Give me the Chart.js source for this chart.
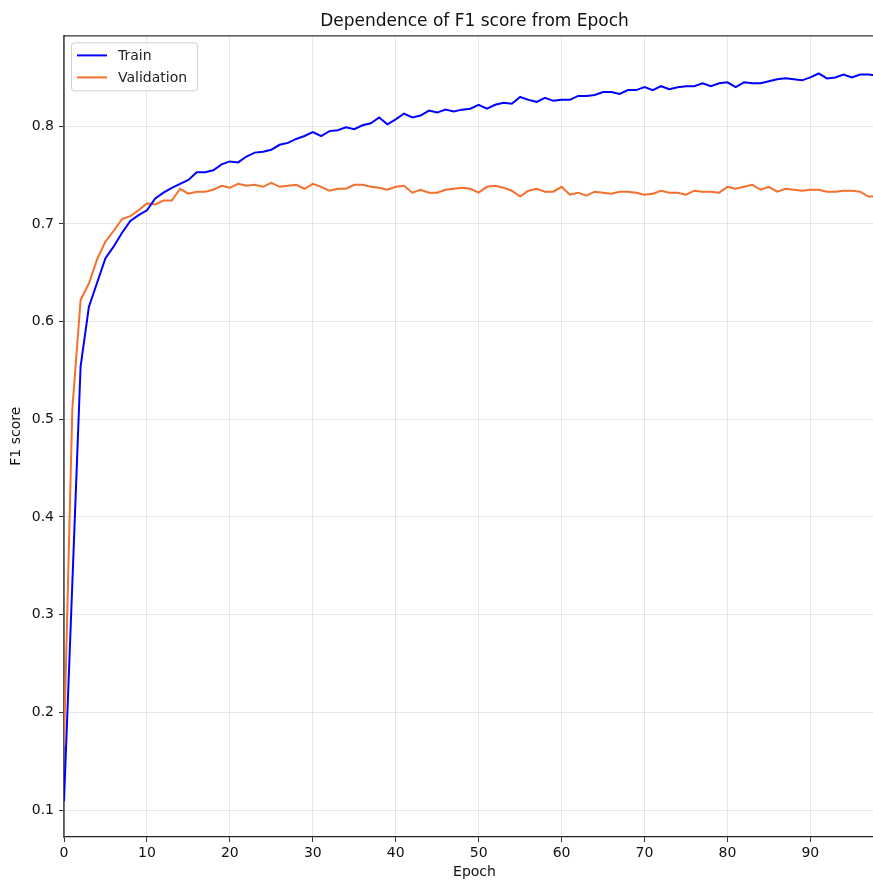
<!DOCTYPE html>
<html>
<head>
<meta charset="utf-8">
<script src="https://cdn.jsdelivr.net/npm/chart.js@4.4.0/dist/chart.umd.min.js"></script>
<style>
html,body{margin:0;padding:0;background:#fff;overflow:hidden;width:873px;height:881px;}
#wrap{width:885px;height:881px;position:relative;}
</style>
</head>
<body>
<div id="wrap"><canvas id="c" width="885" height="881"></canvas></div>
<script>
const epochs = [0,1,2,3,4,5,6,7,8,9,10,11,12,13,14,15,16,17,18,19,20,21,22,23,24,25,26,27,28,29,30,31,32,33,34,35,36,37,38,39,40,41,42,43,44,45,46,47,48,49,50,51,52,53,54,55,56,57,58,59,60,61,62,63,64,65,66,67,68,69,70,71,72,73,74,75,76,77,78,79,80,81,82,83,84,85,86,87,88,89,90,91,92,93,94,95,96,97,98];
const trainF1 = [0.109,0.331,0.554,0.615,0.640,0.665,0.677,0.691,0.703,0.709,0.714,0.726,0.732,0.737,0.741,0.745,0.753,0.753,0.755,0.761,0.764,0.763,0.769,0.773,0.774,0.776,0.781,0.783,0.787,0.790,0.794,0.790,0.795,0.796,0.799,0.797,0.801,0.803,0.809,0.802,0.807,0.813,0.809,0.811,0.816,0.814,0.817,0.815,0.817,0.818,0.822,0.818,0.822,0.824,0.823,0.830,0.827,0.825,0.829,0.826,0.827,0.827,0.831,0.831,0.832,0.835,0.835,0.833,0.837,0.837,0.840,0.837,0.841,0.838,0.840,0.841,0.841,0.844,0.841,0.844,0.845,0.840,0.845,0.844,0.844,0.846,0.848,0.849,0.848,0.847,0.850,0.854,0.849,0.850,0.853,0.850,0.853,0.853,0.852];
const valF1 = [0.166,0.510,0.622,0.639,0.664,0.682,0.693,0.705,0.708,0.714,0.721,0.720,0.724,0.724,0.736,0.731,0.733,0.733,0.735,0.739,0.737,0.741,0.739,0.740,0.738,0.742,0.738,0.739,0.740,0.736,0.741,0.738,0.734,0.736,0.736,0.740,0.740,0.738,0.737,0.735,0.738,0.739,0.732,0.735,0.732,0.732,0.735,0.736,0.737,0.736,0.732,0.738,0.739,0.737,0.734,0.728,0.734,0.736,0.733,0.733,0.738,0.730,0.732,0.729,0.733,0.732,0.731,0.733,0.733,0.732,0.730,0.731,0.734,0.732,0.732,0.730,0.734,0.733,0.733,0.732,0.738,0.736,0.738,0.740,0.735,0.738,0.733,0.736,0.735,0.734,0.735,0.735,0.733,0.733,0.734,0.734,0.733,0.728,0.728];
const xTicks = [0,10,20,30,40,50,60,70,80,90];
const yTicks = [0.1,0.2,0.3,0.4,0.5,0.6,0.7,0.8];
const seriesNames = ['Train','Validation'];
const seriesColors = ['#0000ff','#f4702c'];

const FONT = "'DejaVu Sans', sans-serif";

const insideLegend = {
  id: 'insideLegend',
  afterDraw(chart) {
    const ctx = chart.ctx;
    const a = chart.chartArea;
    ctx.save();
    ctx.strokeStyle = '#000';
    ctx.lineWidth = 1;
    ctx.beginPath();
    ctx.moveTo(a.left, a.top + 0.5);
    ctx.lineTo(a.right, a.top + 0.5);
    ctx.stroke();
    const x = a.left + 7.5, y = a.top + 7.5, w = 126, h = 48, r = 3;
    ctx.beginPath();
    ctx.moveTo(x + r, y);
    ctx.lineTo(x + w - r, y); ctx.quadraticCurveTo(x + w, y, x + w, y + r);
    ctx.lineTo(x + w, y + h - r); ctx.quadraticCurveTo(x + w, y + h, x + w - r, y + h);
    ctx.lineTo(x + r, y + h); ctx.quadraticCurveTo(x, y + h, x, y + h - r);
    ctx.lineTo(x, y + r); ctx.quadraticCurveTo(x, y, x + r, y);
    ctx.closePath();
    ctx.fillStyle = 'rgba(255,255,255,0.8)';
    ctx.fill();
    ctx.strokeStyle = '#d0d0d0';
    ctx.stroke();
    ctx.font = "14px " + FONT;
    ctx.textBaseline = 'middle';
    ctx.textAlign = 'left';
    chart.data.datasets.forEach((ds, i) => {
      const ly = a.top + 20 + i * 22;
      ctx.strokeStyle = ds.borderColor;
      ctx.lineWidth = 2;
      ctx.beginPath();
      ctx.moveTo(a.left + 13, ly);
      ctx.lineTo(a.left + 43, ly);
      ctx.stroke();
      ctx.fillStyle = '#222';
      ctx.fillText(ds.label, a.left + 54, ly + 1);
    });
    ctx.restore();
  }
};

new Chart(document.getElementById('c'), {
  type: 'line',
  data: {
    datasets: [
      { label: seriesNames[0], data: epochs.map((e, i) => ({x: e, y: trainF1[i]})), borderColor: seriesColors[0], backgroundColor: seriesColors[0], borderWidth: 2, pointRadius: 0, tension: 0 },
      { label: seriesNames[1], data: epochs.map((e, i) => ({x: e, y: valF1[i]})), borderColor: seriesColors[1], backgroundColor: seriesColors[1], borderWidth: 2, pointRadius: 0, tension: 0 }
    ]
  },
  options: {
    responsive: false,
    animation: false,
    devicePixelRatio: 1,
    layout: { padding: { left: 0, right: 0, top: 0, bottom: 0 } },
    plugins: {
      legend: { display: false },
      tooltip: { enabled: false },
      title: {
        display: true,
        fullSize: false,
        text: 'Dependence of F1 score from Epoch',
        color: '#111',
        font: { family: FONT, size: 17, weight: 'normal' },
        padding: { top: 11, bottom: 4 }
      }
    },
    scales: {
      x: {
        type: 'linear',
        min: 0,
        max: 99,
        afterBuildTicks: s => { s.ticks = xTicks.map(v => ({value: v})); },
        afterFit: s => { s.height = 44; },
        ticks: { color: '#111', font: { family: FONT, size: 14 }, padding: 3, maxRotation: 0, callback: v => String(v) },
        grid: { color: 'rgba(0,0,0,0.09)', tickColor: '#333', tickLength: 5, lineWidth: 1 },
        border: { color: '#222', width: 1.3 },
        title: { display: true, text: 'Epoch', color: '#111', font: { family: FONT, size: 14 }, padding: { top: 2, bottom: 0 } }
      },
      y: {
        type: 'linear',
        min: 0.0724,
        max: 0.893,
        afterBuildTicks: s => { s.ticks = yTicks.map(v => ({value: v})); },
        afterFit: s => { s.width = 64; },
        ticks: { color: '#111', font: { family: FONT, size: 14 }, padding: 5, callback: v => Number(v).toFixed(1) },
        grid: { color: 'rgba(0,0,0,0.09)', tickColor: '#333', tickLength: 5, lineWidth: 1 },
        border: { color: '#555', width: 1.8 },
        title: { display: true, text: 'F1 score', color: '#111', font: { family: FONT, size: 14 }, padding: { top: 8, bottom: 0 } }
      }
    }
  },
  plugins: [insideLegend]
});
</script>
</body>
</html>
